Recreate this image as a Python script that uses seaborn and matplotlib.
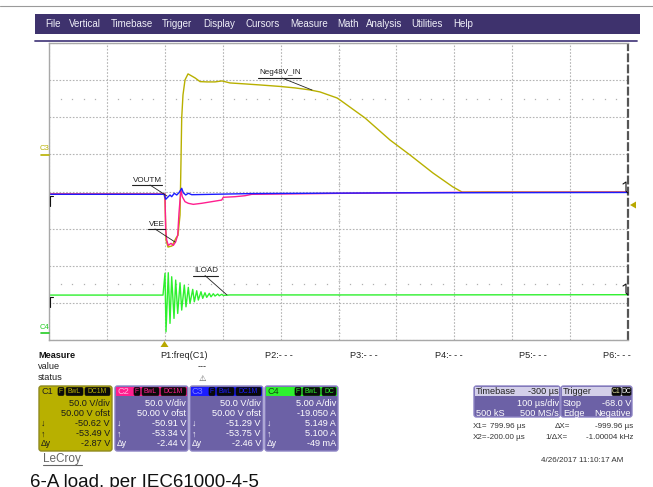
import numpy as np
import pandas as pd
import matplotlib
matplotlib.use('Agg')
import matplotlib.pyplot as plt
import seaborn as sns
from matplotlib.patches import Rectangle, FancyBboxPatch, Polygon

# --- trace data (time in us, 100 us/div, -200..800) ---
t_c1 = [-200, -1.4, 0.3, 2.1, 5.5, 12.4, 19.3, 22.8, 26.3, 28.0, 29.2, 31.4, 34.9, 40.1,
        52.2, 60.8, 72.9, 86.7, 98.8, 112.6, 138.5, 164.5, 199.0, 224.9, 250.8, 268.0,
        297.4, 302.6, 345.7, 388.9, 423.5, 463.2, 497.7, 513.3, 560, 650, 800]
v_c1 = [-53.4, -53.4, -60.0, -115.4, -124.8, -123.4, -112.7, -109.0, -81.7, -7.5, 49.1, 80.0,
        100.3, 108.4, 103.0, 98.0, 97.6, 97.6, 98.9, 96.2, 94.9, 93.5, 91.5, 89.5, 86.8, 84.1,
        76.0, 73.3, 49.1, 19.4, -0.8, -25.1, -43.9, -50.7, -50.5, -50.7, -50.6]

t_c2 = [-200, 0.3, 1.6, 3.3, 6.0, 10.7, 14.7, 18.8, 22.3, 24.5, 26.3, 28.0, 30.2, 34.9,
        40.6, 49.2, 63.7, 81.0, 98.3, 101.0, 121.2, 138.5, 150.1, 300, 500, 800]
v_c2 = [-53.3, -53.4, -101.9, -115.4, -122.6, -119.8, -122.6, -117.7, -108.6, -79.0, -61.5,
        -48.0, -57.0, -63.7, -65.9, -67.3, -65.9, -63.7, -61.5, -57.8, -57.0, -55.7, -53.8,
        -52.5, -51.2, -50.9]

t_c3 = [-200, -1, 1.6, 5.0, 9.0, 11.9, 16.4, 20.6, 24.5, 29.2, 31.9, 36.1, 40.6, 46.5,
        150, 400, 800]
v_c3 = [-53.75, -53.8, -60.5, -57.8, -54.7, -57.0, -52.4, -54.7, -51.6, -45.7, -51.6,
        -54.7, -52.4, -54.3, -52.8, -51.8, -51.29]

t_c4 = [-200, -3.1, 0.35, 2.1, 6.0, 9.0, 11.9, 15.9, 18.8, 22.3, 26.3, 29.2, 33.7, 36.6,
        40.6, 43.5, 48.2, 51.0, 55.1, 57.9, 62.5, 65.5, 69.4, 72.4, 76.9, 79.8, 83.8, 86.7,
        91.4, 94.1, 98.3, 101.0, 112.6, 350, 800]
i_c4 = [5.10, 5.10, 8.03, 0.16, 8.11, 1.29, 7.57, 1.96, 7.12, 2.63, 6.76, 3.08, 6.45, 3.52,
        6.14, 3.98, 5.87, 4.20, 5.68, 4.43, 5.55, 4.66, 5.41, 4.79, 5.33, 4.87, 5.28, 4.97,
        5.24, 5.01, 5.20, 5.06, 5.12, 5.12, 5.149]

# channel settings (V/div or A/div, offset)
ch_names = ['C1', 'C2', 'C3', 'C4']
ch_scale = [50.0, 50.0, 50.0, 5.0]
ch_offset = [50.0, 50.0, 50.0, -19.05]
ch_colors = ['#b8b000', '#ff1f8f', '#1c1cff', '#2ef02e']

# readout panel texts
ch_lines = [['50.0 V/div', '50.00 V ofst', '-50.62 V', '-53.49 V', '-2.87 V'],
            ['50.0 V/div', '50.00 V ofst', '-50.91 V', '-53.34 V', '-2.44 V'],
            ['50.0 V/div', '50.00 V ofst', '-51.29 V', '-53.75 V', '-2.46 V'],
            ['5.00 A/div', '-19.050 A', '5.149 A', '5.100 A', '-49 mA']]
ch_coupling = ['DC1M', 'DC1M', 'DC1M', 'DC']
menu_items = ['File', 'Vertical', 'Timebase', 'Trigger', 'Display', 'Cursors',
              'Measure', 'Math', 'Analysis', 'Utilities', 'Help']
menu_x = [45, 69, 111, 162, 203, 245, 290, 337, 366, 411, 453]
param_labels = ['P1:freq(C1)', 'P2:- - -', 'P3:- - -', 'P4:- - -', 'P5:- - -', 'P6:- - -']
param_x = [160, 265, 350, 435, 519, 603]

sns.set_style('white')
plt.rcParams['font.family'] = ['Liberation Sans', 'DejaVu Sans']

fig = plt.figure(figsize=(6.53, 4.87), dpi=100)

# background layer in pixel coordinates
bg = fig.add_axes([0, 0, 1, 1], zorder=0)
bg.set_xlim(0, 653)
bg.set_ylim(487, 0)
bg.axis('off')

bg.plot([0, 653], [5.5, 5.5], color='#9a9a9a', lw=0.8)
bg.add_patch(Rectangle((35, 14), 605, 20, fc='#3e326d', ec='none'))
for s, x in zip(menu_items, menu_x):
    bg.text(x, 24, s, color='#f0f0f8', fontsize=7, va='center')
bg.plot([35, 637], [40.5, 40.5], color='#4c4180', lw=1.3)

# measure rows
bg.text(38, 355, 'Measure', fontsize=6.6, fontweight='bold', va='center', color='#111')
bg.text(38, 366.5, 'value', fontsize=6.6, va='center', color='#222')
bg.text(38, 378, 'status', fontsize=6.6, va='center', color='#222')
for s, x in zip(param_labels, param_x):
    bg.text(x, 355, s, fontsize=6.6, va='center', color='#222')
bg.text(202, 366.5, '---', fontsize=6.6, va='center', ha='center', color='#222')
bg.text(202, 378, '\u26a0', fontsize=6, va='center', ha='center', color='#555',
        family=['DejaVu Sans'])


def chip(x0, x1, y, s, fg):
    bg.add_patch(FancyBboxPatch((x0, y), x1 - x0, 8, boxstyle='round,pad=0,rounding_size=1.5',
                                fc='#0a0a0a', ec='#0a0a0a', lw=0.5))
    bg.text((x0 + x1) / 2, y + 4.3, s, fontsize=4.9, ha='center', va='center', color=fg)


# channel readout boxes
box_x = [39, 115, 190, 265]
for k in range(4):
    x0 = box_x[k]
    col = ch_colors[k]
    body = col if k == 0 else '#6c61a6'
    edge = '#8f8a20' if k == 0 else '#8c83c4'
    txtc = '#1a1a1a' if k == 0 else '#ffffff'
    bg.add_patch(FancyBboxPatch((x0, 386), 73, 65, boxstyle='round,pad=0,rounding_size=2.5',
                                fc=body, ec=edge, lw=1))
    bg.add_patch(Rectangle((x0 + 1, 387), 71, 9, fc=col, ec='none'))
    headc = {0: '#222222', 1: '#ffb4dc', 2: '#8080ff', 3: '#114411'}[k]
    bg.text(x0 + 2, 391.5, ch_names[k], fontsize=6.6, va='center', color=headc)
    wd = 25 if ch_coupling[k] == 'DC1M' else 14
    xr = x0 + 71
    chip(xr - wd, xr, 387.5, ch_coupling[k], col)
    chip(xr - wd - 19, xr - wd - 2, 387.5, 'BwL', col)
    chip(xr - wd - 27, xr - wd - 21, 387.5, 'F', col)
    for j, (s, y) in enumerate(zip(ch_lines[k], [404, 413.5, 423.5, 434, 444])):
        bg.text(xr, y, s, fontsize=6.6, ha='right', va='center', color=txtc)
    for s, y in zip(['\u2193', '\u2191', '\u0394y'], [423.5, 434, 444]):
        bg.text(x0 + 2, y, s, fontsize=6.2, va='center', color=txtc)

# timebase / trigger boxes
for x0, w in [(474, 86), (561, 71)]:
    bg.add_patch(FancyBboxPatch((x0, 386), w, 31, boxstyle='round,pad=0,rounding_size=2.5',
                                fc='#6c61a6', ec='#8c83c4', lw=1))
    bg.add_patch(Rectangle((x0 + 1, 387), w - 2, 9, fc='#d3cfe9', ec='none'))
bg.text(476, 391.5, 'Timebase', fontsize=6.6, va='center', color='#222')
bg.text(559, 391.5, '-300 \u00b5s', fontsize=6.6, va='center', ha='right', color='#222')
bg.text(559, 404, '100 \u00b5s/div', fontsize=6.6, va='center', ha='right', color='white')
bg.text(476, 413, '500 kS', fontsize=6.6, va='center', color='white')
bg.text(559, 413, '500 MS/s', fontsize=6.6, va='center', ha='right', color='white')
bg.text(563, 391.5, 'Trigger', fontsize=6.6, va='center', color='#222')
chip(612, 621, 387.5, 'C1', '#e0e0a0')
chip(622, 631, 387.5, 'DC', '#ffffff')
bg.text(563, 404, 'Stop', fontsize=6.6, va='center', color='white')
bg.text(631, 404, '-68.0 V', fontsize=6.6, va='center', ha='right', color='white')
bg.text(563, 413, 'Edge', fontsize=6.6, va='center', color='white')
bg.text(631, 413, 'Negative', fontsize=6.6, va='center', ha='right', color='white')

# cursor readouts
cur_fs = 5.8
bg.text(473, 427, 'X1=', fontsize=cur_fs, va='center', color='#333')
bg.text(525, 427, '799.96 \u00b5s', fontsize=cur_fs, va='center', ha='right', color='#333')
bg.text(555, 427, '\u0394X=', fontsize=cur_fs, va='center', color='#333')
bg.text(633, 427, '-999.96 \u00b5s', fontsize=cur_fs, va='center', ha='right', color='#333')
bg.text(473, 437.5, 'X2=', fontsize=cur_fs, va='center', color='#333')
bg.text(525, 437.5, '-200.00 \u00b5s', fontsize=cur_fs, va='center', ha='right', color='#333')
bg.text(545, 437.5, '1/\u0394X=', fontsize=cur_fs, va='center', color='#333')
bg.text(633, 437.5, '-1.00004 kHz', fontsize=cur_fs, va='center', ha='right', color='#333')
bg.text(623, 460, '4/26/2017 11:10:17 AM', fontsize=5.8, va='center', ha='right', color='#333')

bg.text(43, 459, 'LeCroy', fontsize=8.5, va='center', color='#666')
bg.plot([43, 82], [465, 465], color='#666', lw=0.8)
bg.text(30, 487, '6-A load, per IEC61000-4-5', fontsize=13.5, va='baseline', color='#111')

# --- scope graticule ---
ax = fig.add_axes([49 / 653, (487 - 340) / 487, 579 / 653, 297 / 487], zorder=1)
ax.set_facecolor('none')
ax.set_xlim(-200, 800)
ax.set_ylim(-4, 4)
ax.set_xticks(np.arange(-200, 801, 100))
ax.set_yticks(np.arange(-4, 5, 1))
ax.grid(True, color='#b4b4b4', ls=(0, (1.5, 1.5)), lw=0.8)
ax.tick_params(length=0, labelbottom=False, labelleft=False)
for side in ['top', 'left', 'bottom']:
    ax.spines[side].set_color('#a8a8a8')
    ax.spines[side].set_linewidth(1)
ax.spines['right'].set_visible(False)
ax.axvline(800, color='#555555', lw=1.6, ls=(0, (4, 1)), clip_on=False)

minor_x = [x for x in np.arange(-200, 801, 20) if x % 100 != 0]
minor_y = [y for y in np.arange(-4, 4.01, 0.2) if abs(y - round(y)) > 0.01]
for yy in [2.5, -2.5]:
    ax.plot(minor_x, [yy] * len(minor_x), ls='none', marker='s', ms=0.9, color='#b0b0b0', mew=0)
ax.plot([300] * len(minor_y), minor_y, ls='none', marker='_', ms=2, color='#c4c4c4', mew=0.7)

traces = [(t_c1, v_c1, 0), (t_c2, v_c2, 1), (t_c3, v_c3, 2), (t_c4, i_c4, 3)]
for t, v, k in traces:
    df = pd.DataFrame({'t': t, 'div': (np.array(v) + ch_offset[k]) / ch_scale[k]})
    sns.lineplot(data=df, x='t', y='div', ax=ax, color=ch_colors[k], lw=1.0,
                 sort=False, estimator=None)
ax.set_xlabel('')
ax.set_ylabel('')

# --- overlay: labels, markers ---
fg = fig.add_axes([0, 0, 1, 1], zorder=3)
fg.set_facecolor('none')
fg.set_xlim(0, 653)
fg.set_ylim(487, 0)
fg.axis('off')

labels = [('Neg48V_IN', 259, 73, 78, 301, (282, 78), (312, 90)),
          ('VOUTM', 133, 180, 185, 162, (150, 185), (167, 196)),
          ('VEE', 149, 224, 229, 165, (155, 229), (175, 242)),
          ('ILOAD', 194, 271, 275.5, 218, (205, 275.5), (227, 295))]
for s, x, y, yu, xe, p0, p1 in labels:
    fg.text(x, y, s, fontsize=5.8, va='center', color='#222')
    fg.plot([x - 1, xe], [yu, yu], color='#222', lw=0.8)
    fg.plot([p0[0], p1[0]], [p0[1], p1[1]], color='#222', lw=0.6)

# ground markers
fg.text(40, 148.5, 'C3', fontsize=5.5, va='center', color=ch_colors[0])
fg.plot([41, 49], [155, 155], color=ch_colors[0], lw=1.2)
fg.text(40, 327.5, 'C4', fontsize=5.5, va='center', color='#22cc22')
fg.plot([41, 49], [333, 333], color='#22cc22', lw=1.2)

# trigger markers
fg.add_patch(Polygon([[160.5, 347], [168.5, 347], [164.5, 341]], closed=True,
                     fc='#b8a800', ec='none'))
fg.add_patch(Polygon([[630, 205], [636, 201.5], [636, 208.5]], closed=True,
                     fc='#b8a800', ec='none'))

# cursor hooks at the screen edges
for yc in [195, 296]:
    fg.plot([53, 50, 50], [yc + 1, yc + 1, yc + 11], color='#111', lw=0.8)
for yc in [193, 295]:
    fg.plot([623, 626, 626, 628], [yc - 9, yc - 11, yc - 2, yc], color='#111', lw=0.8)

fig.savefig('out.png', dpi=100)
